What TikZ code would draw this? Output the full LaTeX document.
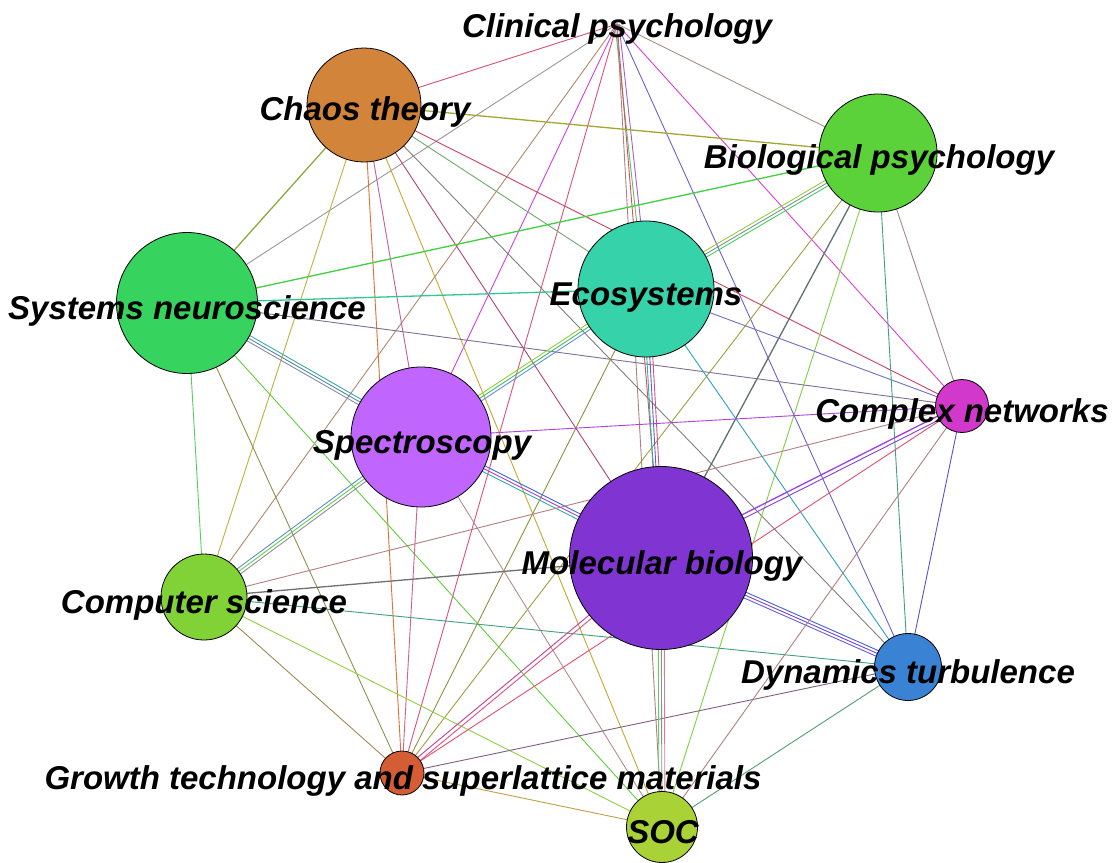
\documentclass[tikz,border=0pt]{standalone}
\usepackage{fontspec}
\setmainfont{Liberation Sans}
\usetikzlibrary{calc}
\pgfdeclarelayer{bg}
\pgfdeclarelayer{paper}
\pgfsetlayers{paper,bg,main}
\definecolor{cCT}{HTML}{D2843A}
\definecolor{cBP}{HTML}{5CD23A}
\definecolor{cSN}{HTML}{36D35E}
\definecolor{cEC}{HTML}{36D2A9}
\definecolor{cCN}{HTML}{D238CB}
\definecolor{cSP}{HTML}{C066FF}
\definecolor{cMB}{HTML}{8035D2}
\definecolor{cCS}{HTML}{80D236}
\definecolor{cDT}{HTML}{3A82D3}
\definecolor{cGT}{HTML}{D45D36}
\definecolor{cSOC}{HTML}{A8D236}
\tikzset{
  vtx/.style={circle, draw=black, line width=0.8pt, inner sep=0pt},
  lbl/.style={font=\fontsize{33}{36}\selectfont\bfseries\itshape, anchor=base, inner sep=0pt, text=black},
  edge/.style={line width=0.9pt},
  thick edge/.style={line width=1.3pt}
}
\begin{document}
\begin{tikzpicture}[x=1pt,y=-1pt]
\useasboundingbox (0,0) rectangle (1113,862);
\begin{pgfonlayer}{paper}
\fill[white] (0,0) rectangle (1113,862);
\end{pgfonlayer}
% vertices
\coordinate (cp) at (617,24);
\node[vtx, fill=cCT, minimum size=114pt] (ct) at (364,105) {};
\node[vtx, fill=cBP, minimum size=118pt] (bp) at (878,153) {};
\node[vtx, fill=cSN, minimum size=141pt] (sn) at (187,303) {};
\node[vtx, fill=cEC, minimum size=136pt] (ec) at (646,289) {};
\node[vtx, fill=cCN, minimum size=53pt] (cn) at (962,406) {};
\node[vtx, fill=cSP, minimum size=140pt] (sp) at (421,437) {};
\node[vtx, fill=cMB, minimum size=183pt] (mb) at (661,558) {};
\node[vtx, fill=cCS, minimum size=86pt] (cs) at (204,597) {};
\node[vtx, fill=cDT, minimum size=67pt] (dt) at (908,667) {};
\node[vtx, fill=cGT, minimum size=44pt] (gt) at (402,773) {};
\node[vtx, fill=cSOC, minimum size=71pt] (soc) at (662,827) {};
% edges
\begin{pgfonlayer}{bg}
% Clinical psychology
\draw[edge, color={rgb,255:red,217;green,80;blue,110}] (cp) -- (ct.center);
\draw[edge, color={rgb,255:red,153;green,153;blue,153}] (cp) -- (sn.center);
\draw[edge, color={rgb,255:red,176;green,136;blue,112}] (cp) -- (cs.center);
\draw[edge, color={rgb,255:red,208;green,64;blue,224}] (cp) -- (sp.center);
\draw[edge, color={rgb,255:red,224;green,80;blue,122}] (cp) -- (gt.center);
\draw[edge, color={rgb,255:red,160;green,96;blue,208}] ($(cp)!2pt!90:(ec.center)$) -- ($(ec.center)!2pt!-90:(cp)$);
\draw[edge, color={rgb,255:red,96;green,192;blue,96}] ($(cp)!2pt!-90:(ec.center)$) -- ($(ec.center)!2pt!90:(cp)$);
\draw[edge, color={rgb,255:red,208;green,80;blue,96}] (cp) -- (mb.center);
\draw[edge, color={rgb,255:red,176;green,128;blue,128}] (cp) -- (soc.center);
\draw[edge, color={rgb,255:red,112;green,96;blue,208}] (cp) -- (dt.center);
\draw[edge, color={rgb,255:red,224;green,64;blue,208}] (cp) -- (cn.center);
\draw[edge, color={rgb,255:red,168;green,144;blue,128}] (cp) -- (bp.center);
% Chaos theory
\draw[thick edge, color={rgb,255:red,160;green,168;blue,48}] (ct.center) -- (bp.center);
\draw[thick edge, color={rgb,255:red,144;green,168;blue,64}] (ct.center) -- (sn.center);
\draw[edge, color={rgb,255:red,192;green,176;blue,64}] (ct.center) -- (cs.center);
\draw[edge, color={rgb,255:red,224;green,112;blue,48}] (ct.center) -- (gt.center);
\draw[edge, color={rgb,255:red,192;green,96;blue,160}] (ct.center) -- (sp.center);
\draw[edge, color={rgb,255:red,200;green,168;blue,48}] (ct.center) -- (soc.center);
\draw[edge, color={rgb,255:red,170;green,70;blue,120}] (ct.center) -- (mb.center);
\draw[edge, color={rgb,255:red,128;green,128;blue,128}] (ct.center) -- (dt.center);
\draw[edge, color={rgb,255:red,112;green,168;blue,112}] (ct.center) -- (ec.center);
\draw[edge, color={rgb,255:red,208;green,64;blue,96}] (ct.center) -- (cn.center);
% Biological psychology
\draw[thick edge, color={rgb,255:red,64;green,208;blue,64}] (bp.center) -- (sn.center);
\draw[edge, color={rgb,255:red,160;green,160;blue,64}] (bp.center) -- (gt.center);
\draw[thick edge, color={rgb,255:red,96;green,112;blue,112}] (bp.center) -- (mb.center);
\draw[edge, color={rgb,255:red,128;green,208;blue,64}] (bp.center) -- (soc.center);
\draw[edge, color={rgb,255:red,64;green,160;blue,128}] (bp.center) -- (dt.center);
\draw[edge, color={rgb,255:red,160;green,136;blue,136}] (bp.center) -- (cn.center);
\draw[edge, color={rgb,255:red,64;green,208;blue,96}] ($(bp.center)!3pt!90:(ec.center)$) -- ($(ec.center)!3pt!-90:(bp.center)$);
\draw[edge, color={rgb,255:red,128;green,144;blue,144}] (bp.center) -- (ec.center);
\draw[edge, color={rgb,255:red,144;green,208;blue,64}] ($(bp.center)!3pt!-90:(ec.center)$) -- ($(ec.center)!3pt!90:(bp.center)$);
% Systems neuroscience
\draw[thick edge, color={rgb,255:red,48;green,200;blue,144}] (sn.center) -- (ec.center);
\draw[edge, color={rgb,255:red,128;green,112;blue,144}] (sn.center) -- (cn.center);
\draw[edge, color={rgb,255:red,96;green,208;blue,64}] (sn.center) -- (soc.center);
\draw[edge, color={rgb,255:red,144;green,144;blue,80}] (sn.center) -- (gt.center);
\draw[edge, color={rgb,255:red,80;green,208;blue,96}] (sn.center) -- (cs.center);
\draw[edge, color={rgb,255:red,48;green,176;blue,160}] ($(sn.center)!3pt!90:(sp.center)$) -- ($(sp.center)!3pt!-90:(sn.center)$);
\draw[edge, color={rgb,255:red,96;green,128;blue,176}] (sn.center) -- (sp.center);
\draw[edge, color={rgb,255:red,128;green,144;blue,160}] ($(sn.center)!3pt!-90:(sp.center)$) -- ($(sp.center)!3pt!90:(sn.center)$);
% Ecosystems
\draw[edge, color={rgb,255:red,112;green,112;blue,192}] (ec.center) -- (cn.center);
\draw[edge, color={rgb,255:red,48;green,160;blue,192}] (ec.center) -- (dt.center);
\draw[edge, color={rgb,255:red,144;green,144;blue,64}] (ec.center) -- (gt.center);
\draw[edge, color={rgb,255:red,96;green,144;blue,224}] ($(ec.center)!3pt!90:(sp.center)$) -- ($(sp.center)!3pt!-90:(ec.center)$);
\draw[edge, color={rgb,255:red,64;green,192;blue,96}] (ec.center) -- (sp.center);
\draw[edge, color={rgb,255:red,144;green,208;blue,64}] ($(ec.center)!3pt!-90:(sp.center)$) -- ($(sp.center)!3pt!90:(ec.center)$);
\draw[edge, color={rgb,255:red,208;green,80;blue,128}] ($(ec.center)!3pt!90:(mb.center)$) -- ($(mb.center)!3pt!-90:(ec.center)$);
\draw[edge, color={rgb,255:red,96;green,96;blue,208}] (ec.center) -- (mb.center);
\draw[edge, color={rgb,255:red,48;green,176;blue,160}] ($(ec.center)!3pt!-90:(mb.center)$) -- ($(mb.center)!3pt!90:(ec.center)$);
% Spectroscopy
\draw[edge, color={rgb,255:red,176;green,64;blue,224}] (sp.center) -- (cn.center);
\draw[edge, color={rgb,255:red,176;green,144;blue,144}] (sp.center) -- (soc.center);
\draw[edge, color={rgb,255:red,208;green,96;blue,144}] (sp.center) -- (gt.center);
\draw[edge, color={rgb,255:red,144;green,144;blue,144}] ($(sp.center)!3pt!90:(cs.center)$) -- ($(cs.center)!3pt!-90:(sp.center)$);
\draw[edge, color={rgb,255:red,96;green,208;blue,80}] (sp.center) -- (cs.center);
\draw[edge, color={rgb,255:red,96;green,144;blue,192}] ($(sp.center)!3pt!-90:(cs.center)$) -- ($(cs.center)!3pt!90:(sp.center)$);
\draw[edge, color={rgb,255:red,64;green,96;blue,224}] ($(sp.center)!3pt!90:(mb.center)$) -- ($(mb.center)!3pt!-90:(sp.center)$);
\draw[edge, color={rgb,255:red,160;green,64;blue,224}] (sp.center) -- (mb.center);
\draw[edge, color={rgb,255:red,48;green,176;blue,160}] ($(sp.center)!3pt!-90:(mb.center)$) -- ($(mb.center)!3pt!90:(sp.center)$);
% Computer science
\draw[edge, color={rgb,255:red,176;green,128;blue,128}] (cs.center) -- (cn.center);
\draw[thick edge, color={rgb,255:red,112;green,112;blue,112}] (cs.center) -- (mb.center);
\draw[edge, color={rgb,255:red,64;green,160;blue,128}] (cs.center) -- (dt.center);
\draw[edge, color={rgb,255:red,144;green,208;blue,64}] (cs.center) -- (soc.center);
\draw[edge, color={rgb,255:red,160;green,136;blue,80}] (cs.center) -- (gt.center);
% Growth technology
\draw[edge, color={rgb,255:red,224;green,80;blue,112}] (gt.center) -- (cn.center);
\draw[edge, color={rgb,255:red,192;green,64;blue,144}] ($(gt.center)!2pt!90:(mb.center)$) -- ($(mb.center)!2pt!-90:(gt.center)$);
\draw[edge, color={rgb,255:red,224;green,80;blue,128}] ($(gt.center)!2pt!-90:(mb.center)$) -- ($(mb.center)!2pt!90:(gt.center)$);
\draw[edge, color={rgb,255:red,128;green,96;blue,128}] (gt.center) -- (dt.center);
\draw[edge, color={rgb,255:red,192;green,160;blue,64}] (gt.center) -- (soc.center);
% Molecular biology
\draw[thick edge, color={rgb,255:red,160;green,64;blue,224}] ($(mb.center)!2pt!90:(cn.center)$) -- ($(cn.center)!2pt!-90:(mb.center)$);
\draw[edge, color={rgb,255:red,128;green,64;blue,208}] ($(mb.center)!2pt!-90:(cn.center)$) -- ($(cn.center)!2pt!90:(mb.center)$);
\draw[edge, color={rgb,255:red,64;green,96;blue,224}] ($(mb.center)!3pt!90:(dt.center)$) -- ($(dt.center)!3pt!-90:(mb.center)$);
\draw[edge, color={rgb,255:red,128;green,64;blue,208}] (mb.center) -- (dt.center);
\draw[edge, color={rgb,255:red,96;green,96;blue,224}] ($(mb.center)!3pt!-90:(dt.center)$) -- ($(dt.center)!3pt!90:(mb.center)$);
\draw[edge, color={rgb,255:red,208;green,128;blue,144}] ($(mb.center)!3pt!90:(soc.center)$) -- ($(soc.center)!3pt!-90:(mb.center)$);
\draw[edge, color={rgb,255:red,144;green,144;blue,144}] (mb.center) -- (soc.center);
\draw[edge, color={rgb,255:red,96;green,208;blue,96}] ($(mb.center)!3pt!-90:(soc.center)$) -- ($(soc.center)!3pt!90:(mb.center)$);
% SOC, Dynamics, Complex networks
\draw[edge, color={rgb,255:red,176;green,128;blue,128}] (soc.center) -- (cn.center);
\draw[edge, color={rgb,255:red,80;green,160;blue,112}] (soc.center) -- (dt.center);
\draw[edge, color={rgb,255:red,96;green,80;blue,208}] (cn.center) -- (dt.center);
\end{pgfonlayer}
% labels
\node[lbl] (lcp) at (617,37) {Clinical psychology};
\node[lbl] (lct) at (365,120) {Chaos theory};
\node[lbl] (lbp) at (879,168) {Biological psychology};
\node[lbl] (lsn) at (187,319) {Systems neuroscience};
\node[lbl] (lec) at (646,305) {Ecosystems};
\node[lbl] (lcn) at (962,422) {Complex networks};
\node[lbl] (lsp) at (422,453) {Spectroscopy};
\node[lbl] (lmb) at (662,574) {Molecular biology};
\node[lbl] (lcs) at (204,613) {Computer science};
\node[lbl] (ldt) at (908,683) {Dynamics turbulence};
\node[lbl] (lgt) at (403,789) {Growth technology and superlattice materials};
\node[lbl] (lsoc) at (663,843) {SOC};
\end{tikzpicture}
\end{document}
